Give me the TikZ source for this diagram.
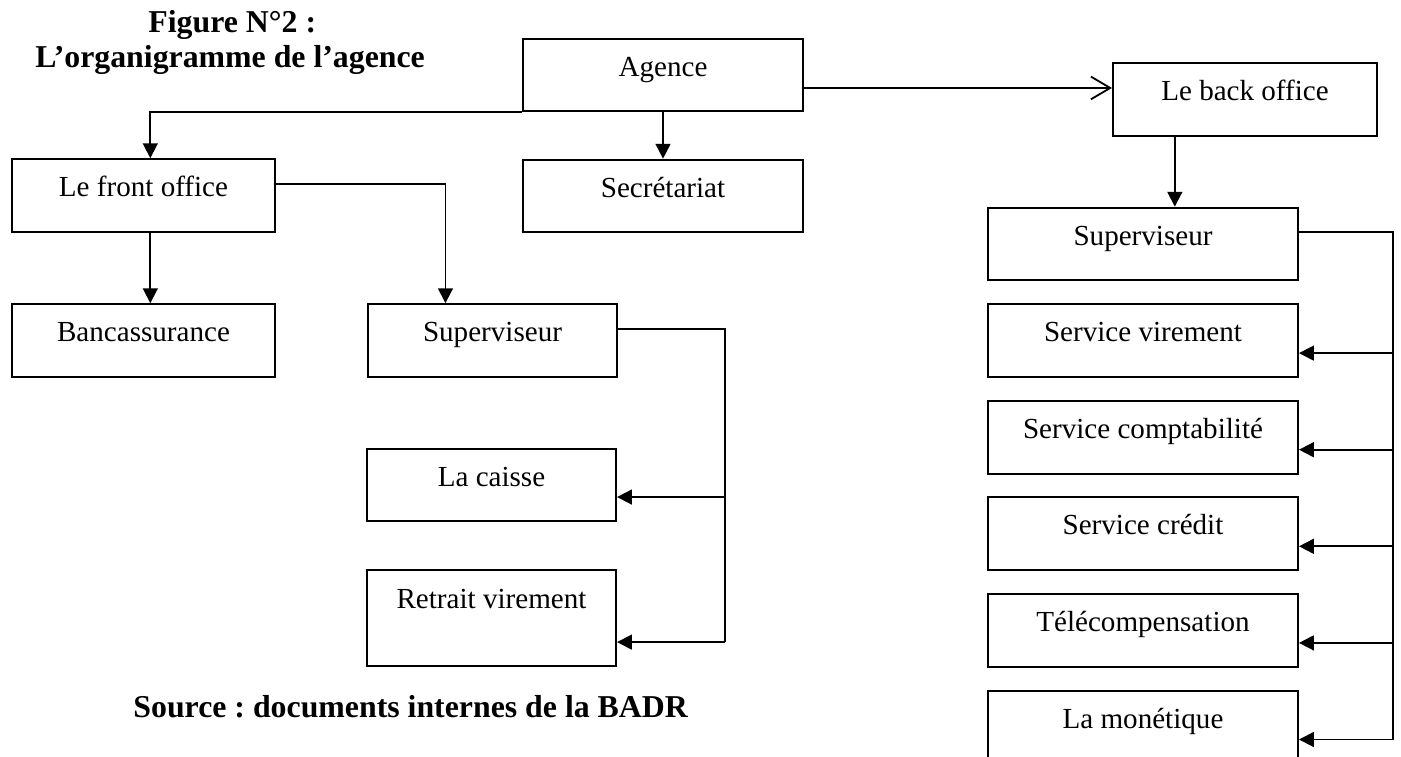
\documentclass[tikz,border=0pt]{standalone}
\usepackage{fontspec}
\setmainfont{Liberation Serif}
\usetikzlibrary{arrows.meta}
\frenchspacing
\begin{document}
\begin{tikzpicture}[x=0.44pt,y=-0.44pt,
  bx/.style={draw,line width=0.85pt,minimum height=32pt,inner sep=0pt,
    text height=8pt,text depth=7pt,font=\fontsize{12.8}{14}\selectfont},
  ln/.style={line width=0.8pt},
  tri/.style={ln,-{Triangle[length=6.5pt,width=6.5pt]}},
  barb/.style={ln,-{Straight Barb[length=8.5pt,width=10pt]}},
  ttl/.style={anchor=base west,inner sep=0pt,font=\fontsize{14}{16}\selectfont\bfseries}]%organigramme
\useasboundingbox (0,0) rectangle (1401,756);
\node[ttl] (fig) at (148,32) {Figure N°2 :};
\node[ttl] (tit) at (35,67) {L’organigramme de l’agence};
\node[ttl] (src) at (133,717) {Source : documents internes de la BADR};
\node[bx,minimum width=123.2pt] (agence) at (663,75) {Agence};
\node[bx,minimum width=115.7pt] (front) at (143.5,195.5) {Le front office};
\node[bx,minimum width=123.2pt] (secr) at (663,196) {Secrétariat};
\node[bx,minimum width=116.2pt] (back) at (1245,99.5) {Le back office};
\node[bx,minimum width=115.7pt] (banc) at (143.5,340.5) {Bancassurance};
\node[bx,minimum width=109.6pt] (supF) at (492.5,340.5) {Superviseur};
\node[bx,minimum width=109.6pt] (caisse) at (491.5,485) {La caisse};
\node[bx,minimum width=109.6pt,minimum height=42.2pt,text depth=16.8pt] (retrait) at (491.5,618) {Retrait virement};
\node[bx,minimum width=136.4pt] (supB) at (1143,244) {Superviseur};
\foreach \i/\t in {1/Service virement,2/Service comptabilité,3/Service crédit,
  4/Télécompensation,5/La monétique}
  \node[bx,minimum width=136.4pt] (s\i) at (1143,244+96.6*\i) {\t};
% agence
\draw[tri] (agence.south west) -| ([xshift=3pt]front.north);
\draw[tri] (agence) -- (secr);
\coordinate (ab) at ([yshift=-5.7pt]agence.east);
\draw[barb] (ab) -- (ab -| back.west);
% front office
\draw[tri] ([xshift=3pt]front.south) -- ([xshift=3pt]banc.north);
\coordinate (fe) at ([yshift=5pt]front.east);
\coordinate (fs) at ([xshift=-20.7pt]supF.north);
\draw[tri] (fe) -| (fs);
\coordinate (busF) at (725,0);
\coordinate (pf) at ([yshift=5pt]supF.east);
\coordinate (c1) at ([yshift=-5.3pt]caisse.east);
\coordinate (c2) at ([yshift=-10.6pt]retrait.east);
\draw[ln] (pf) -- (pf -| busF) -- (busF |- c2);
\draw[tri] (c1 -| busF) -- (c1);
\draw[tri] (c2 -| busF) -- (c2);
% back office
\coordinate (bs) at ([xshift=14pt]supB.north);
\draw[tri] (bs |- back.south) -- (bs);
\coordinate (busB) at (1393,0);
\coordinate (pb) at ([yshift=5.3pt]supB.east);
\foreach \i in {1,...,5}
  \coordinate (a\i) at ([yshift=-5.5pt]s\i.east);
\draw[ln] (pb) -- (pb -| busB) -- (busB |- a5);
\foreach \i in {1,...,5}
  \draw[tri] (a\i -| busB) -- (a\i);
\end{tikzpicture}
\end{document}
